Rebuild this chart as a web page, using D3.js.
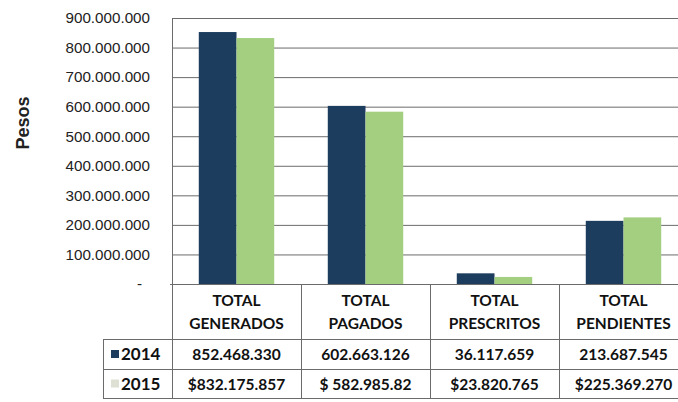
<!DOCTYPE html>
<html><head><meta charset="utf-8">
<script src="https://cdn.jsdelivr.net/npm/d3@7"></script>
<style>html,body{margin:0;padding:0;background:#fff;overflow:hidden}</style>
</head><body>
<svg id="c" width="678" height="402"></svg>
<script>
const categories = ["TOTAL GENERADOS", "TOTAL PAGADOS", "TOTAL PRESCRITOS", "TOTAL PENDIENTES"];
const headerLine1 = ["TOTAL", "TOTAL", "TOTAL", "TOTAL"];
const headerLine2 = ["GENERADOS", "PAGADOS", "PRESCRITOS", "PENDIENTES"];
const seriesNames = ["2014", "2015"];
const values2014 = [852468330, 602663126, 36117659, 213687545];
const values2015 = [832175857, 582985820, 23820765, 225369270];
const labels2014 = ["852.468.330", "602.663.126", "36.117.659", "213.687.545"];
const labels2015 = ["$832.175.857", "$ 582.985.82", "$23.820.765", "$225.369.270"];
const yTicks = [0, 100000000, 200000000, 300000000, 400000000, 500000000, 600000000, 700000000, 800000000, 900000000];
const yTickLabels = ["-", "100.000.000", "200.000.000", "300.000.000", "400.000.000", "500.000.000", "600.000.000", "700.000.000", "800.000.000", "900.000.000"];
const colors = ["#1d3d5e", "#a4cf80"];
const legendColors = ["#1d3d5e", "#dde0d2"];

(function () {
const svg = d3.select("#c");
const pLeft = 172, pRight = 688, pTop = 18, base = 284;
const rowH = [284, 339, 369, 398];
const tableLeft = 103;

const x = d3.scaleBand().domain(categories).range([pLeft, pRight]).paddingInner(0).paddingOuter(0);
const inner = d3.scaleBand().domain(seriesNames).range([0, x.bandwidth()]).paddingOuter(0.71).paddingInner(0);
const y = d3.scaleLinear().domain([0, 900000000]).range([base, pTop]);

const gridColor = "#6b6b6b";
svg.append("g").selectAll("line").data(yTicks.filter(d => d > 0)).join("line")
  .attr("x1", pLeft).attr("x2", pRight).attr("y1", d => y(d) + 0.5).attr("y2", d => y(d) + 0.5)
  .attr("stroke", gridColor).attr("stroke-width", 1);

const yAxis = d3.axisLeft(y).tickValues(yTicks).tickSize(0).tickPadding(0)
  .tickFormat((d, i) => yTickLabels[i]);
const ya = svg.append("g").attr("transform", `translate(150,0)`).call(yAxis);
ya.select(".domain").remove();
ya.selectAll("text").attr("font-family", "'Liberation Sans', Arial, sans-serif").attr("font-size", 15.2).attr("fill", "#222")
  .attr("dx", (d) => d === 0 ? -8 : 0);

svg.append("text").attr("transform", `translate(29,123) rotate(-90)`).attr("text-anchor", "middle")
  .attr("font-family", "'Liberation Sans', Arial, sans-serif").attr("font-weight", "bold").attr("font-size", 18)
  .attr("fill", "#222").text("Pesos");

const series = [values2014, values2015];
series.forEach((vals, si) => {
  svg.append("g").selectAll("rect").data(vals).join("rect")
    .attr("x", (d, i) => x(categories[i]) + inner(seriesNames[si]))
    .attr("width", inner.bandwidth())
    .attr("y", d => y(d)).attr("height", d => base - y(d))
    .attr("fill", colors[si]);
});

const lc = "#6b6b6b";
svg.append("line").attr("x1", pLeft).attr("x2", pRight).attr("y1", pTop + 0.5).attr("y2", pTop + 0.5).attr("stroke", lc);
svg.append("line").attr("x1", pLeft - 2).attr("x2", pRight).attr("y1", base + 0.5).attr("y2", base + 0.5).attr("stroke", lc);
svg.append("line").attr("x1", pLeft + 0.5).attr("x2", pLeft + 0.5).attr("y1", pTop).attr("y2", rowH[3]).attr("stroke", lc);
categories.forEach((c, i) => {
  if (i > 0) svg.append("line").attr("x1", x(c) + 0.5).attr("x2", x(c) + 0.5).attr("y1", base).attr("y2", rowH[3]).attr("stroke", lc);
});
[rowH[1], rowH[2], rowH[3]].forEach(r => {
  svg.append("line").attr("x1", tableLeft).attr("x2", pRight).attr("y1", r + 0.5).attr("y2", r + 0.5).attr("stroke", lc);
});
svg.append("line").attr("x1", tableLeft + 0.5).attr("x2", tableLeft + 0.5).attr("y1", rowH[1]).attr("y2", rowH[3]).attr("stroke", lc);

const tf = "Lato, 'Open Sans', sans-serif";
const tc = "#111";
categories.forEach((c, i) => {
  const cx = x(c) + x.bandwidth() / 2;
  svg.append("text").attr("x", cx).attr("y", 306).attr("text-anchor", "middle").attr("font-family", tf)
    .attr("font-weight", "bold").attr("font-size", 15.5).attr("fill", tc).text(headerLine1[i]);
  svg.append("text").attr("x", cx).attr("y", 329).attr("text-anchor", "middle").attr("font-family", tf)
    .attr("font-weight", "bold").attr("font-size", 15.5).attr("fill", tc).text(headerLine2[i]);
  svg.append("text").attr("x", cx).attr("y", 360).attr("text-anchor", "middle").attr("font-family", tf)
    .attr("font-weight", "bold").attr("font-size", 15.5).attr("fill", tc).text(labels2014[i]);
  svg.append("text").attr("x", cx).attr("y", 390).attr("text-anchor", "middle").attr("font-family", tf)
    .attr("font-weight", "bold").attr("font-size", 15.5).attr("fill", tc).text(labels2015[i]);
});
[0, 1].forEach(si => {
  const cy = (rowH[si + 1] + rowH[si + 2]) / 2;
  svg.append("rect").attr("x", 111).attr("y", cy - 4).attr("width", 8).attr("height", 8).attr("fill", legendColors[si]);
  svg.append("text").attr("x", 121).attr("y", cy + 6).attr("font-family", tf).attr("font-weight", "bold")
    .attr("font-size", 17).attr("fill", tc).text(seriesNames[si]);
});
})();
</script>
</body></html>
